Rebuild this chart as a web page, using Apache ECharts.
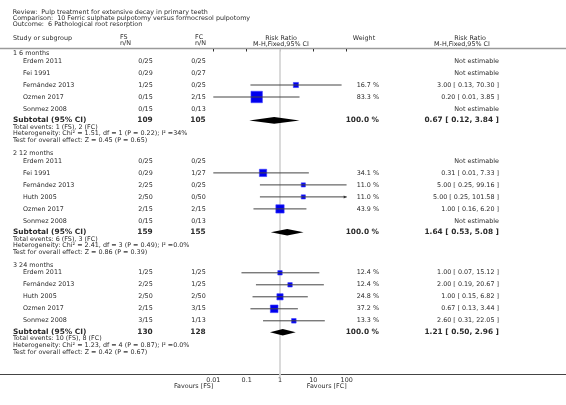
<!DOCTYPE html>
<html><head><meta charset="utf-8">
<script src="https://cdn.jsdelivr.net/npm/echarts@6/dist/echarts.min.js"></script>
<style>html,body{margin:0;padding:0;background:#fff}#c{width:566px;height:405px}</style>
</head><body><div id="c"></div>
<script>
// ---------- DATA ----------
const titleLines = [
  'Review:  Pulp treatment for extensive decay in primary teeth',
  'Comparison:  10 Ferric sulphate pulpotomy versus formocresol pulpotomy',
  'Outcome:  6 Pathological root resorption'
];
const groupNames = ['1 6 months', '2 12 months', '3 24 months'];

const g1Studies = ['Erdem 2011', 'Fei 1991', 'Fernández 2013', 'Ozmen 2017', 'Sonmez 2008'];
const g1FS = ['0/25', '0/29', '1/25', '0/15', '0/15'];
const g1FC = ['0/25', '0/27', '0/25', '2/15', '0/13'];
const g1Weight = [null, null, 16.7, 83.3, null];
const g1RR = [null, null, 3.00, 0.20, null];
const g1Lo = [null, null, 0.13, 0.01, null];
const g1Hi = [null, null, 70.30, 3.85, null];

const g2Studies = ['Erdem 2011', 'Fei 1991', 'Fernández 2013', 'Huth 2005', 'Ozmen 2017', 'Sonmez 2008'];
const g2FS = ['0/25', '0/29', '2/25', '2/50', '2/15', '0/15'];
const g2FC = ['0/25', '1/27', '0/25', '0/50', '2/15', '0/13'];
const g2Weight = [null, 34.1, 11.0, 11.0, 43.9, null];
const g2RR = [null, 0.31, 5.00, 5.00, 1.00, null];
const g2Lo = [null, 0.01, 0.25, 0.25, 0.16, null];
const g2Hi = [null, 7.33, 99.16, 101.58, 6.20, null];

const g3Studies = ['Erdem 2011', 'Fernández 2013', 'Huth 2005', 'Ozmen 2017', 'Sonmez 2008'];
const g3FS = ['1/25', '2/25', '2/50', '2/15', '3/15'];
const g3FC = ['1/25', '1/25', '2/50', '3/15', '1/13'];
const g3Weight = [12.4, 12.4, 24.8, 37.2, 13.3];
const g3RR = [1.00, 2.00, 1.00, 0.67, 2.60];
const g3Lo = [0.07, 0.19, 0.15, 0.13, 0.31];
const g3Hi = [15.12, 20.67, 6.82, 3.44, 22.05];

const subtotalFS = [109, 159, 130];
const subtotalFC = [105, 155, 128];
const subtotalWeight = [100.0, 100.0, 100.0];
const subtotalRR = [0.67, 1.64, 1.21];
const subtotalLo = [0.12, 0.53, 0.50];
const subtotalHi = [3.84, 5.08, 2.96];
const totalEventsFS = [1, 6, 10];
const totalEventsFC = [2, 3, 8];
const hetChi2 = ['1.51', '2.41', '1.23'];
const hetDf = [1, 3, 4];
const hetP = ['0.22', '0.49', '0.87'];
const hetI2 = ['34%', '0.0%', '0.0%'];
const effZ = ['0.45', '0.86', '0.42'];
const effP = ['0.65', '0.39', '0.67'];

const xTicks = [0.01, 0.1, 1, 10, 100];
const xTickLabels = ['0.01', '0.1', '1', '10', '100'];
const favoursLeft = 'Favours [FS]';
const favoursRight = 'Favours [FC]';

// ---------- LAYOUT ----------
const FONT = 'DejaVu Sans';
const TXT = '#2b2b2b';
const FS_N = 6.4;
const FS_B = 7.4;
const GRID_TOP = 49, GRID_BOTTOM_Y = 374.5, ROW_PX = 12;
const Y_MAX = (GRID_BOTTOM_Y - GRID_TOP) / ROW_PX;
const X_MIN = xTicks[0], X_MAX = xTicks[xTicks.length - 1];
const COL = { head: 13, name: 23, fs: 152.7, fc: 205.7, weight: 379, rr: 499 };
const STEP = { head: 0.375, first: 0.625, study: 1, sub: 0.95, stat: 0.55, gap: 1.1 };

const groups = [
  [g1Studies, g1FS, g1FC, g1Weight, g1RR, g1Lo, g1Hi],
  [g2Studies, g2FS, g2FC, g2Weight, g2RR, g2Lo, g2Hi],
  [g3Studies, g3FS, g3FC, g3Weight, g3RR, g3Lo, g3Hi]
];

const rows = [];
let yy = STEP.head;
groups.forEach((g, gi) => {
  const [names, fs, fc, w, rr, lo, hi] = g;
  if (gi > 0) yy += STEP.gap;
  rows.push({ kind: 'head', y: yy, label: groupNames[gi] });
  yy += STEP.first;
  names.forEach((n, i) => {
    if (i > 0) yy += STEP.study;
    rows.push({ kind: 'study', y: yy, label: n, fs: fs[i], fc: fc[i], w: w[i], rr: rr[i], lo: lo[i], hi: hi[i] });
  });
  yy += STEP.sub;
  rows.push({ kind: 'sub', y: yy, fs: subtotalFS[gi], fc: subtotalFC[gi], w: subtotalWeight[gi], rr: subtotalRR[gi], lo: subtotalLo[gi], hi: subtotalHi[gi] });
  const stats = [
    'Total events: ' + totalEventsFS[gi] + ' (FS), ' + totalEventsFC[gi] + ' (FC)',
    'Heterogeneity: Chi\u00b2 = ' + hetChi2[gi] + ', df = ' + hetDf[gi] + ' (P = ' + hetP[gi] + '); I\u00b2 =' + hetI2[gi],
    'Test for overall effect: Z = ' + effZ[gi] + ' (P = ' + effP[gi] + ')'
  ];
  stats.forEach(s => { yy += STEP.stat; rows.push({ kind: 'stat', y: yy, label: s }); });
});

function fmtCI(rr, lo, hi) { return rr.toFixed(2) + ' [ ' + lo.toFixed(2) + ', ' + hi.toFixed(2) + ' ]'; }
function txt(x, y, text, o) {
  o = o || {};
  return { type: 'text', style: { x: x, y: y, text: text, fill: TXT, fontSize: o.size || FS_N, fontFamily: FONT,
    fontWeight: o.bold ? 'bold' : 'normal', align: o.align || 'left', verticalAlign: 'middle' } };
}

const chart = echarts.init(document.getElementById('c'));
chart.setOption({
  animation: false,
  backgroundColor: '#fff',
  grid: { left: 213.3, right: 566 - 346.7, top: GRID_TOP, bottom: 405 - GRID_BOTTOM_Y },
  xAxis: {
    type: 'log', logBase: 10, min: X_MIN, max: X_MAX, splitNumber: 4,
    axisLine: { show: false },
    axisTick: { show: true, length: 2.5, lineStyle: { color: '#333', width: 1 } },
    splitLine: { show: false },
    axisLabel: { margin: 2.5, fontSize: FS_N, fontFamily: FONT, color: TXT,
      formatter: v => { const e = Math.round(Math.log10(v)); const k = xTicks.findIndex(t => Math.round(Math.log10(t)) === e); return k >= 0 ? xTickLabels[k] : ''; } }
  },
  yAxis: { type: 'value', inverse: true, min: 0, max: Y_MAX, show: false },
  graphic: [
    { type: 'line', shape: { x1: 0, y1: 48.5, x2: 566, y2: 48.5 }, style: { stroke: '#9a9a9a', lineWidth: 1.5 } },
    { type: 'line', shape: { x1: 0, y1: GRID_BOTTOM_Y, x2: 566, y2: GRID_BOTTOM_Y }, style: { stroke: '#444', lineWidth: 1 } },
    txt(12.7, 12.7, titleLines[0]), txt(12.7, 18.3, titleLines[1]), txt(12.7, 24, titleLines[2]),
    txt(13, 38, 'Study or subgroup'),
    txt(120, 37.5, 'FS'), txt(120, 43.5, 'n/N'),
    txt(195, 37.5, 'FC'), txt(195, 43.5, 'n/N'),
    txt(281, 38, 'Risk Ratio', { align: 'center' }), txt(281, 44, 'M-H,Fixed,95% CI', { align: 'center' }),
    txt(364, 38, 'Weight', { align: 'center' }),
    txt(470, 38, 'Risk Ratio', { align: 'center' }), txt(462, 44, 'M-H,Fixed,95% CI', { align: 'center' })
  ],
  series: [
    {
      type: 'custom', silent: true, clip: false, z: 1,
      data: [[1, 0]],
      renderItem: (params, api) => {
        const top = api.coord([1, 0]);
        const bot = api.coord([1, Y_MAX]);
        const xl = api.coord([X_MIN, Y_MAX])[0];
        const xr = api.coord([X_MAX, Y_MAX])[0];
        return { type: 'group', children: [
          { type: 'line', shape: { x1: top[0], y1: top[1], x2: bot[0], y2: bot[1] + 3 }, style: { stroke: '#d6d6d6', lineWidth: 1.8 } },
          txt(xl, bot[1] + 11.5, favoursLeft, { align: 'right' }),
          txt(xr, bot[1] + 11.5, favoursRight, { align: 'right' })
        ] };
      }
    },
    {
      type: 'custom', silent: true, clip: false, z: 2,
      data: rows.map(r => [r.rr || 1, r.y]),
      renderItem: (params, api) => {
        const r = rows[params.dataIndex];
        const y = api.coord([1, r.y])[1];
        const ch = [];
        if (r.kind === 'head') {
          ch.push(txt(COL.head, y, r.label));
        } else if (r.kind === 'stat') {
          ch.push(txt(COL.head, y, r.label));
        } else if (r.kind === 'study') {
          ch.push(txt(COL.name, y, r.label));
          ch.push(txt(COL.fs, y, r.fs, { align: 'right' }));
          ch.push(txt(COL.fc, y, r.fc, { align: 'right' }));
          if (r.rr != null) {
            ch.push(txt(COL.weight, y, r.w.toFixed(1) + ' %', { align: 'right' }));
            ch.push(txt(COL.rr, y, fmtCI(r.rr, r.lo, r.hi), { align: 'right' }));
            const x0 = api.coord([Math.max(r.lo, X_MIN), r.y])[0];
            const x1 = api.coord([Math.min(r.hi, X_MAX), r.y])[0];
            const xc = api.coord([r.rr, r.y])[0];
            const s = 1.25 * Math.sqrt(r.w);
            ch.push({ type: 'rect', shape: { x: xc - s / 2, y: y - s / 2, width: s, height: s }, style: { fill: '#0000ee', stroke: '#3a3aff', lineWidth: 0.6 } });
            ch.push({ type: 'line', shape: { x1: x0, y1: y, x2: x1, y2: y }, style: { stroke: '#444', lineWidth: 1 } });
            if (r.hi > X_MAX) {
              ch.push({ type: 'polygon', shape: { points: [[x1, y], [x1 - 3, y - 1.5], [x1 - 3, y + 1.5]] }, style: { fill: '#333' } });
            }
          } else {
            ch.push(txt(COL.rr, y, 'Not estimable', { align: 'right' }));
          }
        } else if (r.kind === 'sub') {
          ch.push(txt(COL.head, y, 'Subtotal (95% CI)', { bold: true, size: FS_B }));
          ch.push(txt(COL.fs, y, String(r.fs), { bold: true, size: FS_B, align: 'right' }));
          ch.push(txt(COL.fc, y, String(r.fc), { bold: true, size: FS_B, align: 'right' }));
          ch.push(txt(COL.weight, y, r.w.toFixed(1) + ' %', { bold: true, size: FS_B, align: 'right' }));
          ch.push(txt(COL.rr, y, fmtCI(r.rr, r.lo, r.hi), { bold: true, size: FS_B, align: 'right' }));
          const xl = api.coord([r.lo, r.y])[0];
          const xh = api.coord([r.hi, r.y])[0];
          const xc = api.coord([r.rr, r.y])[0];
          const h = 3.3;
          ch.push({ type: 'polygon', shape: { points: [[xl, y], [xc, y - h], [xh, y], [xc, y + h]] }, style: { fill: '#000' } });
        }
        return { type: 'group', children: ch };
      }
    }
  ]
});
</script>
</body></html>
